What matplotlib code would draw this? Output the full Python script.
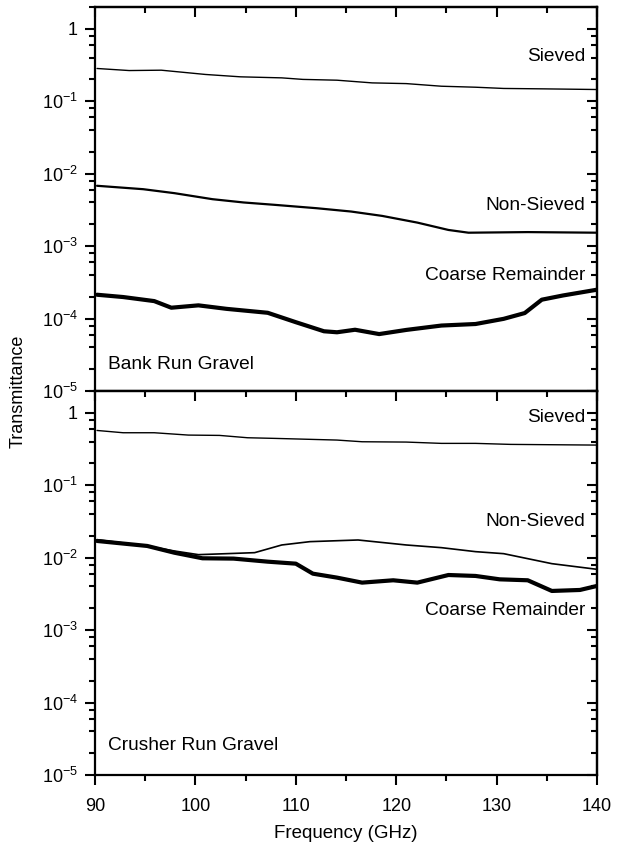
import matplotlib
matplotlib.use("Agg")
import matplotlib.pyplot as plt
from matplotlib.ticker import LogLocator, MultipleLocator, FuncFormatter, NullFormatter
import numpy as np

plt.rcParams['font.family'] = ['Liberation Sans', 'DejaVu Sans']
plt.rcParams['mathtext.fontset'] = 'custom'
plt.rcParams['mathtext.rm'] = 'Liberation Sans'
plt.rcParams['mathtext.default'] = 'regular'

# ---- Bank run gravel ----
bank_sieved_f = [90.2, 93.4, 96.6, 101.0, 104.5, 108.6, 110.7, 114.1, 117.6, 121.0, 124.5, 127.9, 130.7, 134.8, 140.0]
bank_sieved_t = [0.283, 0.265, 0.268, 0.234, 0.217, 0.21, 0.20, 0.195, 0.179, 0.175, 0.161, 0.156, 0.150, 0.148, 0.145]

bank_nonsieved_f = [90.2, 94.8, 97.9, 101.7, 104.8, 107.9, 112.1, 115.5, 118.6, 122.1, 125.2, 127.2, 133.1, 140.0]
bank_nonsieved_t = [6.8e-3, 6.1e-3, 5.38e-3, 4.44e-3, 4.0e-3, 3.71e-3, 3.33e-3, 3.0e-3, 2.61e-3, 2.11e-3, 1.67e-3, 1.53e-3, 1.56e-3, 1.53e-3]

bank_coarse_f = [90.2, 92.8, 95.9, 97.6, 100.3, 103.1, 107.2, 110.0, 112.8, 114.1, 115.9, 118.3, 121.0, 124.5, 127.9, 130.7, 132.8, 134.5, 136.6, 140.0]
bank_coarse_t = [2.13e-4, 1.98e-4, 1.74e-4, 1.41e-4, 1.52e-4, 1.36e-4, 1.2e-4, 8.9e-5, 6.67e-5, 6.46e-5, 7.0e-5, 6.1e-5, 6.96e-5, 8.0e-5, 8.4e-5, 9.9e-5, 1.19e-4, 1.82e-4, 2.08e-4, 2.5e-4]

# ---- Crusher run gravel ----
crush_sieved_f = [90.2, 92.8, 95.9, 99.3, 102.4, 105.2, 107.9, 114.1, 116.6, 121.0, 124.5, 127.9, 131.4, 140.0]
crush_sieved_t = [0.570, 0.53, 0.53, 0.492, 0.487, 0.452, 0.443, 0.42, 0.398, 0.394, 0.378, 0.378, 0.366, 0.358]

crush_nonsieved_f = [90.2, 95.2, 97.9, 100.3, 103.1, 105.9, 108.6, 111.4, 116.2, 121.0, 124.5, 127.9, 130.7, 135.5, 140.0]
crush_nonsieved_t = [0.0177, 0.0145, 0.01236, 0.0110, 0.01135, 0.01172, 0.01496, 0.01663, 0.01753, 0.01496, 0.01374, 0.0121, 0.01135, 0.00826, 0.0069]

crush_coarse_f = [90.2, 95.2, 97.9, 100.7, 103.8, 107.2, 110.0, 111.7, 114.1, 116.6, 119.7, 122.1, 125.2, 127.9, 130.3, 133.1, 135.5, 138.3, 140.0]
crush_coarse_t = [0.017, 0.0145, 0.0117, 0.0098, 0.0097, 0.0088, 0.00826, 0.00601, 0.0053, 0.00452, 0.00487, 0.00452, 0.00576, 0.00559, 0.00502, 0.00487, 0.00347, 0.00358, 0.00407]

series_labels = ["Sieved", "Non-Sieved", "Coarse Remainder"]
panel_titles = ["Bank Run Gravel", "Crusher Run Gravel"]
x_ticks = [90, 100, 110, 120, 130, 140]

fig = plt.figure(figsize=(6.19, 8.49), dpi=100)
L, R = 0.1535, 0.9645
ax_top = fig.add_axes([L, 0.5395, R - L, 0.9918 - 0.5395])
ax_bot = fig.add_axes([L, 0.0872, R - L, 0.5395 - 0.0872])

MINOR_SUBS = [2, 4, 6, 8]


def log_fmt(v, pos):
    e = int(round(np.log10(v)))
    if e == 0:
        return "1"
    return r"$10^{%d}$" % e


def style(ax, show_x):
    ax.set_yscale('log')
    ax.set_xlim(90, 140)
    ax.set_ylim(1e-5, 2.0)
    for s in ax.spines.values():
        s.set_linewidth(1.6)
    ax.xaxis.set_major_locator(MultipleLocator(10))
    ax.xaxis.set_minor_locator(MultipleLocator(5))
    ax.yaxis.set_major_locator(LogLocator(base=10, numticks=10))
    ax.yaxis.set_minor_locator(LogLocator(base=10, subs=MINOR_SUBS, numticks=20))
    ax.yaxis.set_major_formatter(FuncFormatter(log_fmt))
    ax.yaxis.set_minor_formatter(NullFormatter())
    ax.tick_params(axis='both', which='major', length=7.5, width=1.5, labelsize=13)
    ax.tick_params(axis='both', which='minor', length=4.5, width=1.5)
    ax.tick_params(axis='x', which='both', direction='out', bottom=True, top=False, pad=9)
    ax.tick_params(axis='y', which='both', direction='out', left=True, right=False, pad=5)
    # inward ticks on the opposite spines
    sx = ax.secondary_xaxis('top')
    sx.xaxis.set_major_locator(MultipleLocator(10))
    sx.xaxis.set_minor_locator(MultipleLocator(5))
    sx.tick_params(axis='x', which='major', direction='in', length=7.5, width=1.5, labeltop=False)
    sx.tick_params(axis='x', which='minor', direction='in', length=4.5, width=1.5)
    sx.spines['top'].set_linewidth(1.6)
    sy = ax.secondary_yaxis('right')
    sy.set_yscale('log')
    sy.yaxis.set_major_locator(LogLocator(base=10, numticks=10))
    sy.yaxis.set_minor_locator(LogLocator(base=10, subs=MINOR_SUBS, numticks=20))
    sy.yaxis.set_minor_formatter(NullFormatter())
    sy.tick_params(axis='y', which='major', direction='in', length=7.5, width=1.5, labelright=False)
    sy.tick_params(axis='y', which='minor', direction='in', length=4.5, width=1.5)
    sy.spines['right'].set_linewidth(1.6)
    if show_x:
        ax.set_xticks(x_ticks)
        ax.set_xticklabels([str(v) for v in x_ticks])
    else:
        ax.tick_params(axis='x', labelbottom=False)


style(ax_top, False)
style(ax_bot, True)

kw = dict(color='black', solid_joinstyle='round', solid_capstyle='round')
ax_top.plot(bank_sieved_f, bank_sieved_t, lw=1.0, **kw)
ax_top.plot(bank_nonsieved_f, bank_nonsieved_t, lw=1.6, **kw)
ax_top.plot(bank_coarse_f, bank_coarse_t, lw=3.0, **kw)

ax_bot.plot(crush_sieved_f, crush_sieved_t, lw=1.0, **kw)
ax_bot.plot(crush_nonsieved_f, crush_nonsieved_t, lw=1.2, **kw)
ax_bot.plot(crush_coarse_f, crush_coarse_t, lw=3.0, **kw)

tfs = 13.8
ax_top.text(0.976, 0.87, series_labels[0], transform=ax_top.transAxes, ha='right', va='center', fontsize=tfs)
ax_top.text(0.976, 0.484, series_labels[1], transform=ax_top.transAxes, ha='right', va='center', fontsize=tfs)
ax_top.text(0.976, 0.30, series_labels[2], transform=ax_top.transAxes, ha='right', va='center', fontsize=tfs)
ax_top.text(0.026, 0.07, panel_titles[0], transform=ax_top.transAxes, ha='left', va='center', fontsize=tfs)

ax_bot.text(0.976, 0.932, series_labels[0], transform=ax_bot.transAxes, ha='right', va='center', fontsize=tfs)
ax_bot.text(0.976, 0.661, series_labels[1], transform=ax_bot.transAxes, ha='right', va='center', fontsize=tfs)
ax_bot.text(0.976, 0.427, series_labels[2], transform=ax_bot.transAxes, ha='right', va='center', fontsize=tfs)
ax_bot.text(0.026, 0.078, panel_titles[1], transform=ax_bot.transAxes, ha='left', va='center', fontsize=tfs)

fig.text(0.029, 0.5395, "Transmittance", rotation=90, ha='center', va='center', fontsize=13)
fig.text(0.559, 0.018, "Frequency (GHz)", ha='center', va='center', fontsize=13.5)

fig.savefig("out.png", dpi=100)
